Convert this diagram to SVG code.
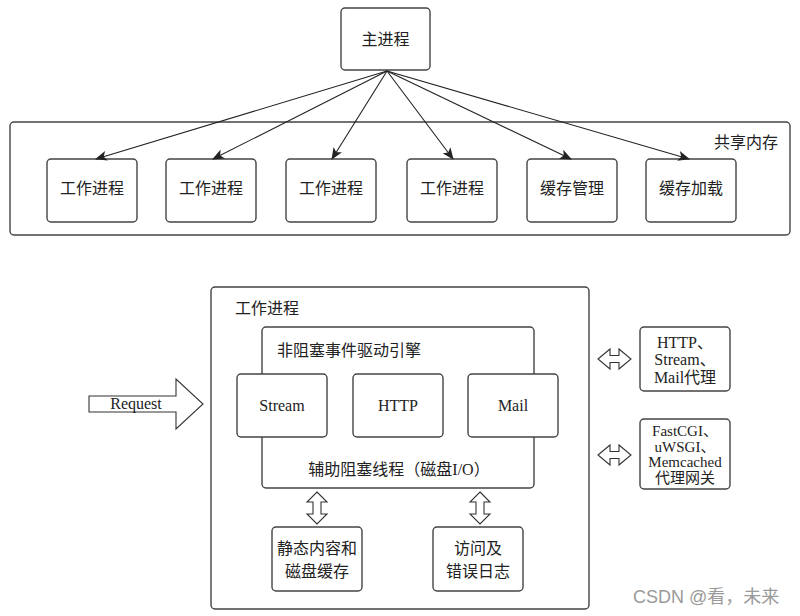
<svg xmlns="http://www.w3.org/2000/svg" width="800" height="616" viewBox="0 0 800 616">
<defs>
<style>
.box{fill:#fff;stroke:#444;stroke-width:1.4}
.t{font-family:"Liberation Serif","Noto Sans CJK SC",serif;font-size:16px;fill:#222;text-anchor:middle;dominant-baseline:central}
.tl{font-family:"Liberation Serif","Noto Sans CJK SC",serif;font-size:16px;fill:#222;dominant-baseline:central}
.ts{font-size:15px}
.edge{stroke:#222;stroke-width:1.1;fill:none;marker-end:url(#ah)}
.blk{fill:#fff;stroke:#333;stroke-width:1.1}
</style>
<marker id="ah" viewBox="0 0 12 10" refX="11" refY="5" markerWidth="12" markerHeight="10" markerUnits="userSpaceOnUse" orient="auto">
<path d="M0,0 L12,5 L0,10 L3,5 z" fill="#222"/>
</marker>
</defs>
<rect width="800" height="616" fill="#fff"/>

<g id="shared-memory">
<rect class="box" x="10" y="122" width="780" height="113" rx="4"/>
<text class="t" x="746" y="142">共享内存</text>
</g>

<g id="master">
<rect class="box" x="341" y="8" width="89" height="62" rx="4"/>
<text class="t" x="385.5" y="39">主进程</text>
</g>

<g id="worker1"><rect class="box" x="47" y="159" width="90" height="63" rx="4"/><text class="t" x="92" y="188">工作进程</text></g>
<g id="worker2"><rect class="box" x="166" y="159" width="90" height="63" rx="4"/><text class="t" x="211" y="188">工作进程</text></g>
<g id="worker3"><rect class="box" x="286" y="159" width="90" height="63" rx="4"/><text class="t" x="331" y="188">工作进程</text></g>
<g id="worker4"><rect class="box" x="407" y="159" width="90" height="63" rx="4"/><text class="t" x="452" y="188">工作进程</text></g>
<g id="cache-manager"><rect class="box" x="527" y="159" width="90" height="63" rx="4"/><text class="t" x="572" y="188">缓存管理</text></g>
<g id="cache-loader"><rect class="box" x="646" y="159" width="90" height="63" rx="4"/><text class="t" x="691" y="188">缓存加载</text></g>

<g id="worker-process">
<rect class="box" x="211" y="287" width="378" height="322" rx="4"/>
<text class="tl" x="235" y="308">工作进程</text>
</g>

<g id="event-engine">
<rect class="box" x="262" y="327" width="272" height="161" rx="4"/>
<text class="tl" x="277" y="350">非阻塞事件驱动引擎</text>
<text class="t" x="399" y="469">辅助阻塞线程（磁盘I/O）</text>
</g>

<g id="stream"><rect class="box" x="237" y="374" width="90" height="63" rx="4"/><text class="t" x="282" y="405">Stream</text></g>
<g id="http"><rect class="box" x="353" y="374" width="90" height="63" rx="4"/><text class="t" x="398" y="405">HTTP</text></g>
<g id="mail"><rect class="box" x="468" y="374" width="90" height="63" rx="4"/><text class="t" x="513" y="405">Mail</text></g>

<g id="static-cache">
<rect class="box" x="272" y="527" width="90" height="64" rx="4"/>
<text class="t" x="317" y="548">静态内容和</text>
<text class="t" x="317" y="571">磁盘缓存</text>
</g>
<g id="logs">
<rect class="box" x="433" y="527" width="90" height="64" rx="4"/>
<text class="t" x="478" y="548">访问及</text>
<text class="t" x="478" y="571">错误日志</text>
</g>

<g id="proxy">
<rect class="box" x="640" y="327" width="90" height="64" rx="4"/>
<text class="t" x="685" y="342">HTTP、</text>
<text class="t" x="685" y="359.5">Stream、</text>
<text class="t" x="685" y="377">Mail代理</text>
</g>
<g id="gateway">
<rect class="box" x="640" y="419" width="90" height="70" rx="4"/>
<text class="t ts" x="685" y="431">FastCGI、</text>
<text class="t ts" x="685" y="446.5">uWSGI、</text>
<text class="t ts" x="685" y="462">Memcached</text>
<text class="t ts" x="685" y="477.5">代理网关</text>
</g>

<g id="connectors">
<line class="edge" x1="387" y1="71" x2="96" y2="159"/>
<line class="edge" x1="387" y1="71" x2="213" y2="159"/>
<line class="edge" x1="387" y1="71" x2="332" y2="159"/>
<line class="edge" x1="387" y1="71" x2="453" y2="159"/>
<line class="edge" x1="387" y1="71" x2="571" y2="159"/>
<line class="edge" x1="387" y1="71" x2="689" y2="159"/>
<polygon class="blk" points="89,396 176,396 176,379 203,404 176,429 176,412 89,412"/>
<polygon class="blk" points="317,492 327,502 321,502 321,514 327,514 317,524 307,514 313,514 313,502 307,502"/>
<polygon class="blk" points="480,492 490,502 484,502 484,514 490,514 480,524 470,514 476,514 476,502 470,502"/>
<polygon class="blk" points="598,359 610,349 610,355.5 619,355.5 619,349 631,359 619,369 619,362.5 610,362.5 610,369"/>
<polygon class="blk" points="598,455 610,445 610,451.5 619,451.5 619,445 631,455 619,465 619,458.5 610,458.5 610,465"/>
</g>
<text class="t" x="136" y="403">Request</text>

<text x="633" y="597" font-family="'Liberation Sans','Noto Sans CJK SC',sans-serif" font-size="18" fill="#9a9a9a" dominant-baseline="central">CSDN @看，未来</text>
</svg>
